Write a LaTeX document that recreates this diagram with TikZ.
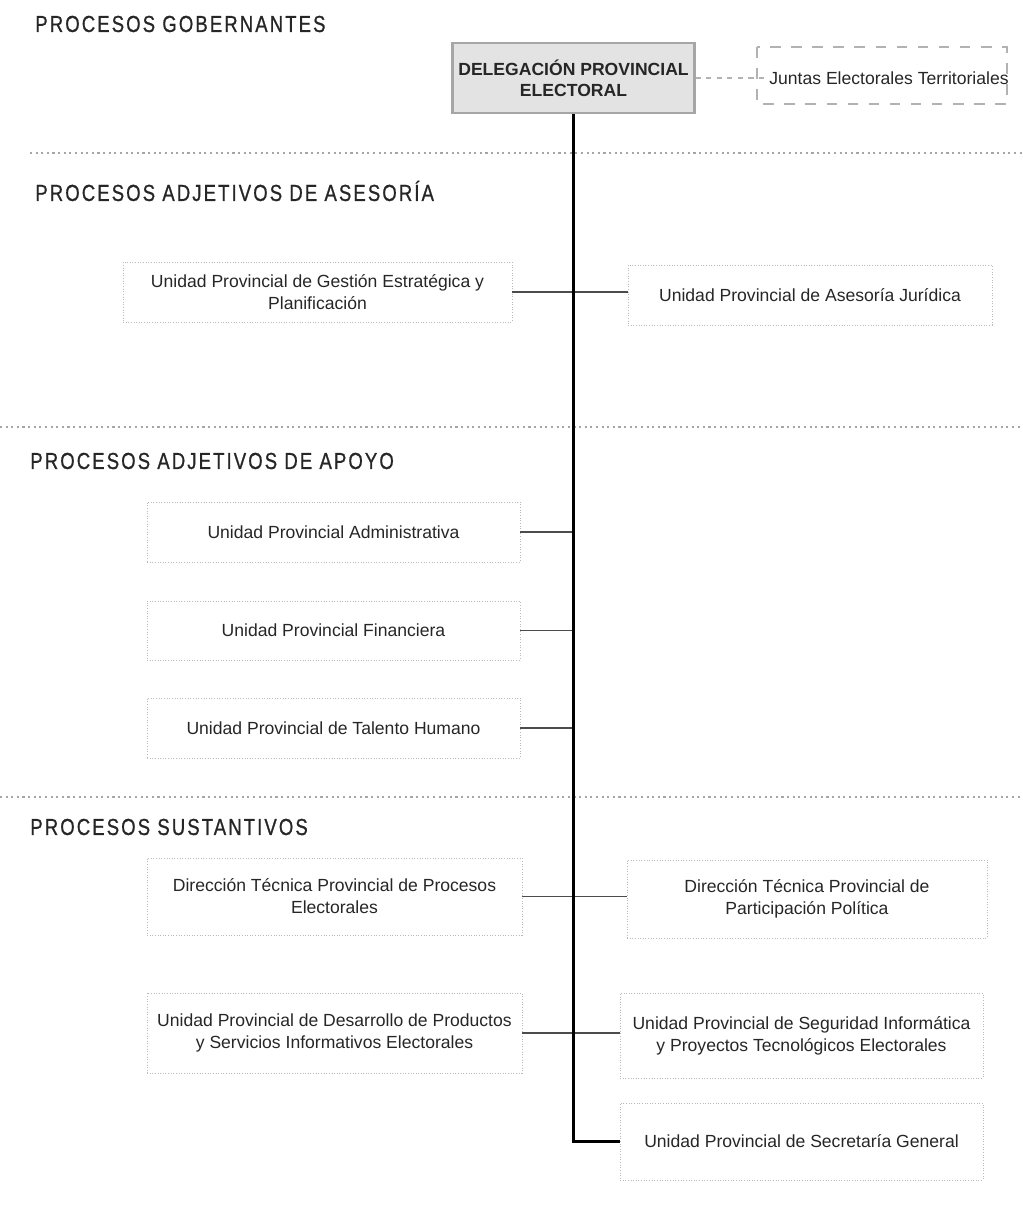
\documentclass[tikz,border=0pt]{standalone}
\usepackage{fontspec}
\setmainfont{Liberation Sans}
\newfontfamily\headfont[LetterSpace=9,FakeStretch=0.8,FakeBold=0.8]{Liberation Sans}
\begin{document}
\begin{tikzpicture}[x=0.02cm,y=-0.02cm,
  box/.style={draw=gray!55, densely dotted, line width=0.5pt, align=center,
    inner sep=2pt, font=\fontsize{10}{12.5}\selectfont, text=black!85},
  head/.style={anchor=west, inner sep=0pt, font=\headfont\fontsize{13.2}{15}\selectfont, text=black!85},
  sep/.style={draw=gray!70, dotted, line width=1.2pt},
  conn/.style={draw=gray!60!black, line width=0.9pt},
  mainline/.style={draw=black, line width=1.4pt}]
\useasboundingbox (0,0) rectangle (1022,1207);

% headings
\node[head] (h1) at (35,24) {PROCESOS GOBERNANTES};
\node[head] (h2) at (35,191) {PROCESOS ADJETIVOS DE ASESORÍA};
\node[head] (h3) at (30,461) {PROCESOS ADJETIVOS DE APOYO};
\node[head] (h4) at (30,827) {PROCESOS SUSTANTIVOS};

% separators
\coordinate (s1a) at (30,153); \coordinate (s1b) at (1022,153);
\coordinate (s2a) at (0,427); \coordinate (s2b) at (1022,427);
\coordinate (s3a) at (0,797); \coordinate (s3b) at (1022,797);
\draw[sep] (s1a) -- (s1b);
\draw[sep] (s2a) -- (s2b);
\draw[sep] (s3a) -- (s3b);

% top box
\node[draw=gray!70, fill=gray!22, line width=1.2pt, minimum width=4.74cm, minimum height=1.40cm,
  align=center, font=\bfseries\fontsize{10}{12}\selectfont, text=black!85] (dele) at (573.5,78)
  {DELEGACIÓN PROVINCIAL\\ELECTORAL};
\draw[draw=gray!60, dashed, dash pattern=on 6pt off 6pt, line width=0.7pt] (757,47) rectangle (1007,104);
\node[inner sep=0pt, font=\fontsize{10}{12}\selectfont, text=black!85] (juntas) at (889,78) {Juntas Electorales Territoriales};
\draw[draw=gray!60, dashed, line width=0.7pt] (dele.east) -- (juntas.west);

% boxes
\node[box, minimum width=7.78cm, minimum height=1.2cm] (gestion) at (317.5,292)
  {Unidad Provincial de Gestión Estratégica y\\Planificación};
\node[box, minimum width=7.28cm, minimum height=1.2cm] (juridica) at (810,295)
  {Unidad Provincial de Asesoría Jurídica};
\node[box, minimum width=7.46cm, minimum height=1.2cm] (admin) at (333.5,532)
  {Unidad Provincial Administrativa};
\node[box, minimum width=7.46cm, minimum height=1.18cm] (finan) at (333.5,630.5)
  {Unidad Provincial Financiera};
\node[box, minimum width=7.46cm, minimum height=1.2cm] (talento) at (333.5,728)
  {Unidad Provincial de Talento Humano};
\node[box, minimum width=7.5cm, minimum height=1.54cm] (procelec) at (334.5,896.5)
  {Dirección Técnica Provincial de Procesos\\Electorales};
\node[box, minimum width=7.2cm, minimum height=1.56cm] (partpol) at (807,899)
  {Dirección Técnica Provincial de\\Participación Política};
\node[box, minimum width=7.5cm, minimum height=1.6cm] (desarrollo) at (334.5,1033)
  {Unidad Provincial de Desarrollo de Productos\\y Servicios Informativos Electorales};
\node[box, minimum width=7.26cm, minimum height=1.7cm] (seguridad) at (801.5,1035.5)
  {Unidad Provincial de Seguridad Informática\\y Proyectos Tecnológicos Electorales};
\node[box, minimum width=7.26cm, minimum height=1.54cm] (secretaria) at (801.5,1141.5)
  {Unidad Provincial de Secretaría General};

% connectors
\draw[conn] (gestion.east) -- (gestion.east -| juridica.west);
\draw[conn] (admin.east) -- (admin.east -| dele.south);
\draw[conn] (finan.east) -- (finan.east -| dele.south);
\draw[conn] (talento.east) -- (talento.east -| dele.south);
\draw[conn] (procelec.east) -- (procelec.east -| partpol.west);
\draw[conn] (desarrollo.east) -- (desarrollo.east -| seguridad.west);
\draw[mainline] (dele.south) |- (secretaria.west);
\end{tikzpicture}
\end{document}
